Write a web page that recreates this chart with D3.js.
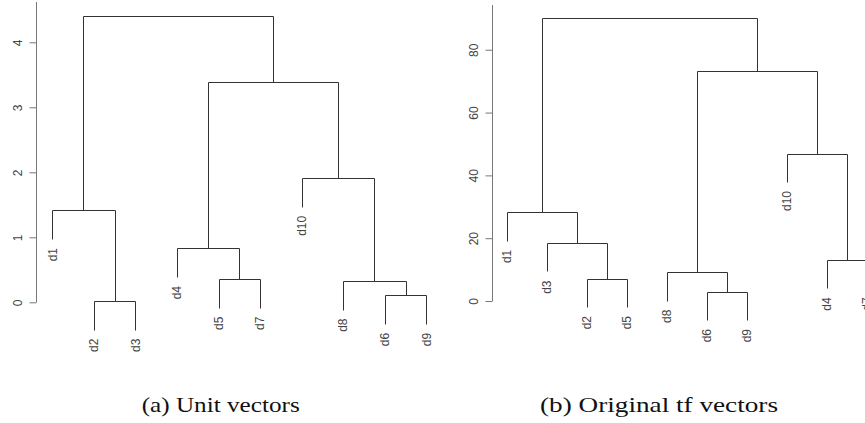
<!DOCTYPE html>
<meta charset="utf-8">
<script src="https://d3js.org/d3.v7.min.js"></script>
<style>
body { margin: 0; background: #fff; }
svg { display: block; }
.leaf { font-family: "Liberation Sans", Arial, sans-serif; font-size: 12px; fill: #444; }
.axis text { font-family: "Liberation Sans", Arial, sans-serif; font-size: 12px; fill: #444; }
.caption { font-family: "Liberation Serif", "Times New Roman", serif; font-size: 21.5px; fill: #111; }
</style>
<div id="my_dataviz"></div>
<script>

// (a) unit vectors: leaf order, merges (name = leaf, number = earlier merge step), heights
var leavesA = ["d1", "d2", "d3", "d4", "d5", "d7", "d10", "d8", "d6", "d9"]
var mergesA = [["d2", "d3"], ["d6", "d9"], ["d8", 2], ["d5", "d7"], ["d4", 4],
               ["d1", 1], ["d10", 3], [5, 7], [6, 8]]
var heightsA = [0.02, 0.11, 0.33, 0.36, 0.83, 1.415, 1.91, 3.385, 4.41]
var ticksA = [0, 1, 2, 3, 4]

// (b) original tf vectors
var leavesB = ["d1", "d3", "d2", "d5", "d8", "d6", "d9", "d10", "d4", "d7"]
var mergesB = [["d6", "d9"], ["d2", "d5"], ["d8", 1], ["d4", "d7"], ["d3", 2],
               ["d1", 5], ["d10", 4], [3, 7], [6, 8]]
var heightsB = [2.96, 7.1, 9.1, 13.0, 18.4, 28.2, 46.9, 73.1, 90.0]
var ticksB = [0, 20, 40, 60, 80]

var captions = ["(a) Unit vectors", "(b) Original tf vectors"]

var width = 865
var height = 423

var svg = d3.select("#my_dataviz")
  .append("svg")
    .attr("width", width)
    .attr("height", height)

function dendrogram(leaves, merges, heights, ticks, opt) {
  var g = svg.append("g")

  var x = d3.scalePoint().domain(leaves).range(opt.xRange)
  var y = d3.scaleLinear().domain([0, opt.yTop]).range(opt.yRange)
  var hang = 0.1 * d3.max(heights)

  // position of each merge step
  var nodes = []
  function pos(ref) {
    if (typeof ref === "string") return { x: x(ref), h: null }
    return nodes[ref - 1]
  }
  var px = function(v) { return Math.round(v) + 0.5 }

  merges.forEach(function(m, i) {
    var h = heights[i]
    var a = pos(m[0]), b = pos(m[1])
    var ha = a.h === null ? h - hang : a.h
    var hb = b.h === null ? h - hang : b.h
    nodes.push({ x: (a.x + b.x) / 2, h: h })

    g.append("path")
      .attr("d", "M" + px(a.x) + "," + px(y(ha)) +
                 "V" + px(y(h)) + "H" + px(b.x) + "V" + px(y(hb)))
      .attr("fill", "none")
      .attr("stroke", "#333")
      .attr("stroke-width", 1)

    // leaf labels hang under the leaf ends
    ;[[m[0], ha], [m[1], hb]].forEach(function(c) {
      if (typeof c[0] !== "string") return
      g.append("text")
        .attr("class", "leaf")
        .attr("transform", "translate(" + x(c[0]) + "," + (y(c[1]) + 9) + ") rotate(-90)")
        .attr("text-anchor", "end")
        .attr("dy", "0.35em")
        .text(c[0])
    })
  })

  var axis = g.append("g")
    .attr("class", "axis")
    .attr("transform", "translate(" + px(opt.axisX) + ",0)")
    .call(d3.axisLeft(y).tickValues(ticks).tickFormat(d3.format("d"))
      .tickSize(7).tickSizeOuter(0))

  axis.selectAll("path, line").attr("stroke", "#777")
  axis.select(".domain").attr("d", "M0," + y(0) + "V" + y(opt.yTop))
  axis.selectAll("text")
    .attr("transform", "rotate(-90)")
    .attr("x", 0)
    .attr("y", -15)
    .attr("dy", 0)
    .attr("text-anchor", "middle")

  svg.append("text")
    .attr("class", "caption")
    .attr("x", opt.capX)
    .attr("y", 411.5)
    .attr("textLength", opt.capW)
    .attr("lengthAdjust", "spacingAndGlyphs")
    .text(opt.caption)
}

dendrogram(leavesA, mergesA, heightsA, ticksA, {
  xRange: [52.3, 426.3], yRange: [302.3, 2], yTop: 4.62, axisX: 36.2,
  caption: captions[0], capX: 141.7, capW: 158
})

dendrogram(leavesB, mergesB, heightsB, ticksB, {
  xRange: [506.7, 866.7], yRange: [301, 5], yTop: 94.25, axisX: 491.8,
  caption: captions[1], capX: 540, capW: 238
})

</script>
